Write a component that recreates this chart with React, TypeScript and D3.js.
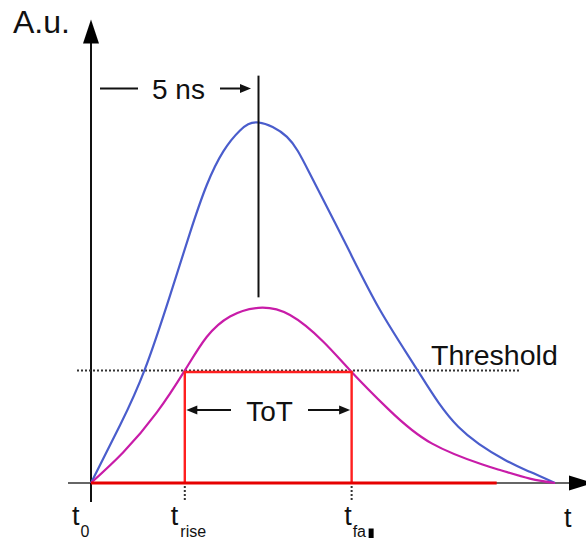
import React from "react";
import * as d3 from "d3";

// Signal shapes (time in ns, amplitude in A.u.)
const blueT = [0, 0.866, 1.61, 2.358, 2.955, 3.453, 3.95, 4.448, 5, 5.85, 6.55, 7.62, 8.627, 9.752, 10.964, 12.358, 13.1, 13.85];
const blueA = [0, 0.16, 0.316, 0.52, 0.694, 0.826, 0.92, 0.978, 1, 0.96, 0.855, 0.66, 0.48, 0.312, 0.156, 0.064, 0.031, 0];
const magT = [0, 0.964, 1.96, 2.806, 3.453, 4.15, 5, 5.94, 6.935, 7.73, 8.875, 10.17, 11.663, 12.21, 13.1, 13.85];
const magA = [0, 0.085, 0.195, 0.313, 0.405, 0.462, 0.486, 0.466, 0.392, 0.313, 0.205, 0.11, 0.052, 0.036, 0.012, 0];

const threshold = 0.312;
const tRise = 2.8;
const tFall = 7.78;
const peakT = 5;
const redEnd = 12.11;
const peakLine = [0.515, 1.13];

const xLabels = [
  { t: 0, sub: "0" },
  { t: tRise, sub: "rise" },
  { t: tFall, sub: "fa" },
];

export default function App() {
  const x = d3.scaleLinear().domain([0, 5]).range([91, 258.5]);
  const y = d3.scaleLinear().domain([0, 1]).range([483, 122.5]);

  const line = d3
    .line<[number, number]>()
    .x((d) => x(d[0]))
    .y((d) => y(d[1]))
    .curve(d3.curveNatural);

  const blue = line(blueT.map((t, i) => [t, blueA[i]]));
  const mag = line(magT.map((t, i) => [t, magA[i]]));

  const x0 = x(0);
  const y0 = y(0);
  const yThr = y(threshold);
  const xr = x(tRise);
  const xf = x(tFall);
  const xp = x(peakT);

  const font = "'Liberation Sans', Arial, sans-serif";
  // label offsets (t glyph, subscript) relative to each time mark
  const labelOff = [
    [-19, -10.5],
    [-14, -4.5],
    [-7.5, 1],
  ];

  return (
    <svg
      width={586}
      height={538}
      style={{ position: "absolute", left: 0, top: 0, background: "#fff" }}
      fontFamily={font}
    >
      {/* x axis */}
      <line x1={68} y1={y0} x2={572} y2={y0} stroke="#666" strokeWidth={2.2} />
      <path d={`M569,${y0 - 7.5} L593,${y0} L569,${y0 + 7.5} Z`} fill="#000" />
      {/* y axis */}
      <line x1={x0} y1={502} x2={x0} y2={40} stroke="#111" strokeWidth={2} />
      <path d={`M${x0 - 8},43.5 L${x0},19.5 L${x0 + 8},43.5 Z`} fill="#000" />

      {/* threshold */}
      <line
        x1={77}
        y1={yThr}
        x2={519}
        y2={yThr}
        stroke="#333"
        strokeWidth={2}
        strokeDasharray="2,2"
      />

      {/* curves */}
      <path d={blue || ""} fill="none" stroke="#4a5dcc" strokeWidth={2.2} />
      <path d={mag || ""} fill="none" stroke="#c81ca8" strokeWidth={2.2} />

      {/* ToT box */}
      <path
        d={`M${xr},${y0} L${xr},${yThr + 1.5} L${xf},${yThr + 1.5} L${xf},${y0}`}
        fill="none"
        stroke="#ff1f1f"
        strokeWidth={2.4}
      />
      <line x1={x0} y1={y0} x2={x(redEnd)} y2={y0} stroke="#e60000" strokeWidth={3} />

      {/* ticks under axis */}
      {[xr, xf].map((xx, i) => (
        <line
          key={i}
          x1={xx}
          y1={486}
          x2={xx}
          y2={502}
          stroke="#333"
          strokeWidth={2}
          strokeDasharray="2,2"
        />
      ))}

      {/* peak marker */}
      <line x1={xp} y1={y(peakLine[0])} x2={xp} y2={y(peakLine[1])} stroke="#111" strokeWidth={2} />

      {/* 5 ns annotation */}
      <line x1={100} y1={88.5} x2={138} y2={88.5} stroke="#111" strokeWidth={2} />
      <text x={152} y={99} fontSize={28} fill="#111">5 ns</text>
      <line x1={220} y1={88.5} x2={241} y2={88.5} stroke="#111" strokeWidth={2} />
      <path d={`M240,84 L251,88.5 L240,93 Z`} fill="#111" />

      {/* ToT annotation */}
      <line x1={xr + 9} y1={410} x2={231} y2={410} stroke="#111" strokeWidth={2} />
      <path d={`M${xr + 1.5},410 L${xr + 12.5},405.5 L${xr + 12.5},414.5 Z`} fill="#111" />
      <text x={269.5} y={421} fontSize={28} fill="#111" textAnchor="middle">ToT</text>
      <line x1={308} y1={410} x2={xf - 9} y2={410} stroke="#111" strokeWidth={2} />
      <path d={`M${xf - 1.5},410 L${xf - 12.5},405.5 L${xf - 12.5},414.5 Z`} fill="#111" />

      {/* Threshold label */}
      <text x={431} y={365} fontSize={28.5} fill="#111">Threshold</text>

      {/* Axis titles */}
      <text x={13} y={33} fontSize={32} fill="#111">A.u.</text>
      <text x={564} y={527} fontSize={27} fill="#111">t</text>

      {/* time labels */}
      {xLabels.map((l, i) => {
        const xx = x(l.t);
        return (
          <g key={i}>
            <text x={xx + labelOff[i][0]} y={525} fontSize={27} fill="#111">t</text>
            <text x={xx + labelOff[i][1]} y={536.5} fontSize={16} fill="#111">{l.sub}</text>
          </g>
        );
      })}
      <rect x={xf + 17} y={528.5} width={5} height={9.5} fill="#000" />
    </svg>
  );
}
